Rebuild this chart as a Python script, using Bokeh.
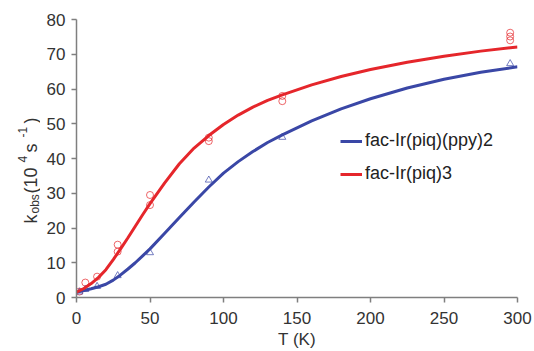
import math
from bokeh.plotting import figure
from bokeh.models import Range1d, Legend, LegendItem, FixedTicker
from bokeh.layouts import row
from bokeh.core.properties import value
from bokeh.embed import file_html
from bokeh.resources import INLINE

# measured points
red_T = [2, 6, 14, 28, 28, 50, 50, 90, 90, 140, 140, 295, 295, 295]
red_k = [1.7, 4.3, 6.0, 15.2, 13.2, 29.5, 26.6, 46.0, 45.0, 58.0, 56.5, 76.2, 75.1, 74.0]
blue_T = [2, 6, 14, 28, 50, 90, 140, 295]
blue_k = [1.6, 2.3, 3.2, 6.3, 12.9, 33.8, 46.1, 67.3]

# fitted curves
fit_T = [0, 5, 10, 15, 20, 25, 30, 35, 40, 45, 50, 60, 70, 80, 90, 100, 110, 120, 130, 140,
         160, 180, 200, 225, 250, 275, 300]
red_fit = [1.5, 2.6, 4.0, 5.8, 8.0, 10.9, 14.0, 17.2, 20.5, 23.8, 27.0, 33.0, 38.5, 43.0, 46.6,
           49.8, 52.5, 54.8, 56.7, 58.3, 61.2, 63.6, 65.6, 67.7, 69.4, 70.9, 72.1]
blue_fit = [1.5, 2.0, 2.5, 3.1, 3.8, 5.0, 6.5, 8.2, 10.0, 12.0, 14.0, 18.5, 23.0, 27.5, 31.8,
            35.8, 39.1, 42.0, 44.6, 46.8, 50.8, 54.3, 57.2, 60.3, 62.8, 64.8, 66.4]

x_ticks = [0, 50, 100, 150, 200, 250, 300]
y_ticks = [0, 10, 20, 30, 40, 50, 60, 70, 80]

# y-axis label pieces: text, font size
ylab_texts = ["k", "obs", "(10", "4", "s", "-1", ")"]
ylab_sizes = ["18px", "12px", "18px", "12px", "18px", "12px", "18px"]

RED = "#e5262b"
BLUE = "#3a47a6"
FONT = "Liberation Sans"
TXT = "#333333"

# ---- left strip holding the rotated y-axis title ----
L = figure(frame_width=40, frame_height=351, output_backend="svg", toolbar_location=None,
           x_axis_type=None, y_axis_type=None,
           x_range=Range1d(0, 40), y_range=Range1d(0, 351),
           min_border=0, min_border_left=0, min_border_right=0, min_border_top=0, min_border_bottom=0)
L.grid.visible = False
L.outline_line_color = None
# canvas positions of each piece (start along the vertical, baseline x)
ylab_start = [204, 194, 174, 143, 133, 118, 104]
ylab_base = [30, 34, 30, 22, 30, 22, 30]
L.text(x=ylab_base, y=[351 - v for v in ylab_start], text=ylab_texts, angle=math.pi / 2,
       text_font=value(FONT), text_font_size=ylab_sizes, text_color=TXT,
       text_align="left", text_baseline="alphabetic")

# ---- main plot ----
p = figure(width=494, height=351, output_backend="svg", toolbar_location=None,
           x_range=Range1d(0, 300), y_range=Range1d(0, 80),
           min_border_left=36, min_border_right=17, min_border_top=19, min_border_bottom=53)
p.outline_line_color = None
p.xgrid.visible = False
p.ygrid.visible = False

for ax in (p.xaxis, p.yaxis):
    ax.axis_line_color = "#7f7f7f"
    ax.axis_line_width = 1.5
    ax.major_tick_line_color = "#7f7f7f"
    ax.major_tick_line_width = 1.5
    ax.major_tick_out = 5
    ax.major_tick_in = 0
    ax.minor_tick_line_color = None
    ax.major_label_text_font = FONT
    ax.major_label_text_font_size = "17px"
    ax.major_label_text_color = TXT

p.xaxis.ticker = FixedTicker(ticks=x_ticks)
p.yaxis.ticker = FixedTicker(ticks=y_ticks)
p.xaxis.major_label_standoff = 9
p.yaxis.major_label_standoff = 6
p.xaxis.axis_label = "T (K)"
p.xaxis.axis_label_text_font = FONT
p.xaxis.axis_label_text_font_style = "normal"
p.xaxis.axis_label_text_font_size = "17px"
p.xaxis.axis_label_text_color = TXT
p.xaxis.axis_label_standoff = 3

p.scatter(red_T, red_k, marker="circle", size=7, fill_color=None, line_color=RED, line_width=1, alpha=0.7)
p.scatter(blue_T, blue_k, marker="triangle", size=7, fill_color=None, line_color=BLUE, line_width=1, alpha=0.7)
lb = p.line(fit_T, blue_fit, line_color=BLUE, line_width=3)
lr = p.line(fit_T, red_fit, line_color=RED, line_width=3)

legend = Legend(items=[LegendItem(label="fac-Ir(piq)(ppy)2", renderers=[lb]),
                       LegendItem(label="fac-Ir(piq)3", renderers=[lr])],
                location=(264, 113), orientation="vertical")
legend.background_fill_alpha = 0
legend.border_line_color = None
legend.padding = 0
legend.margin = 0
legend.spacing = 12
legend.glyph_width = 22
legend.glyph_height = 20
legend.label_height = 20
legend.label_standoff = 3
legend.label_text_font = FONT
legend.label_text_font_size = "18px"
legend.label_text_color = "#222222"
p.add_layout(legend, "center")

layout = row(L, p, spacing=0)
open("out.html", "w").write(file_html(layout, INLINE))
